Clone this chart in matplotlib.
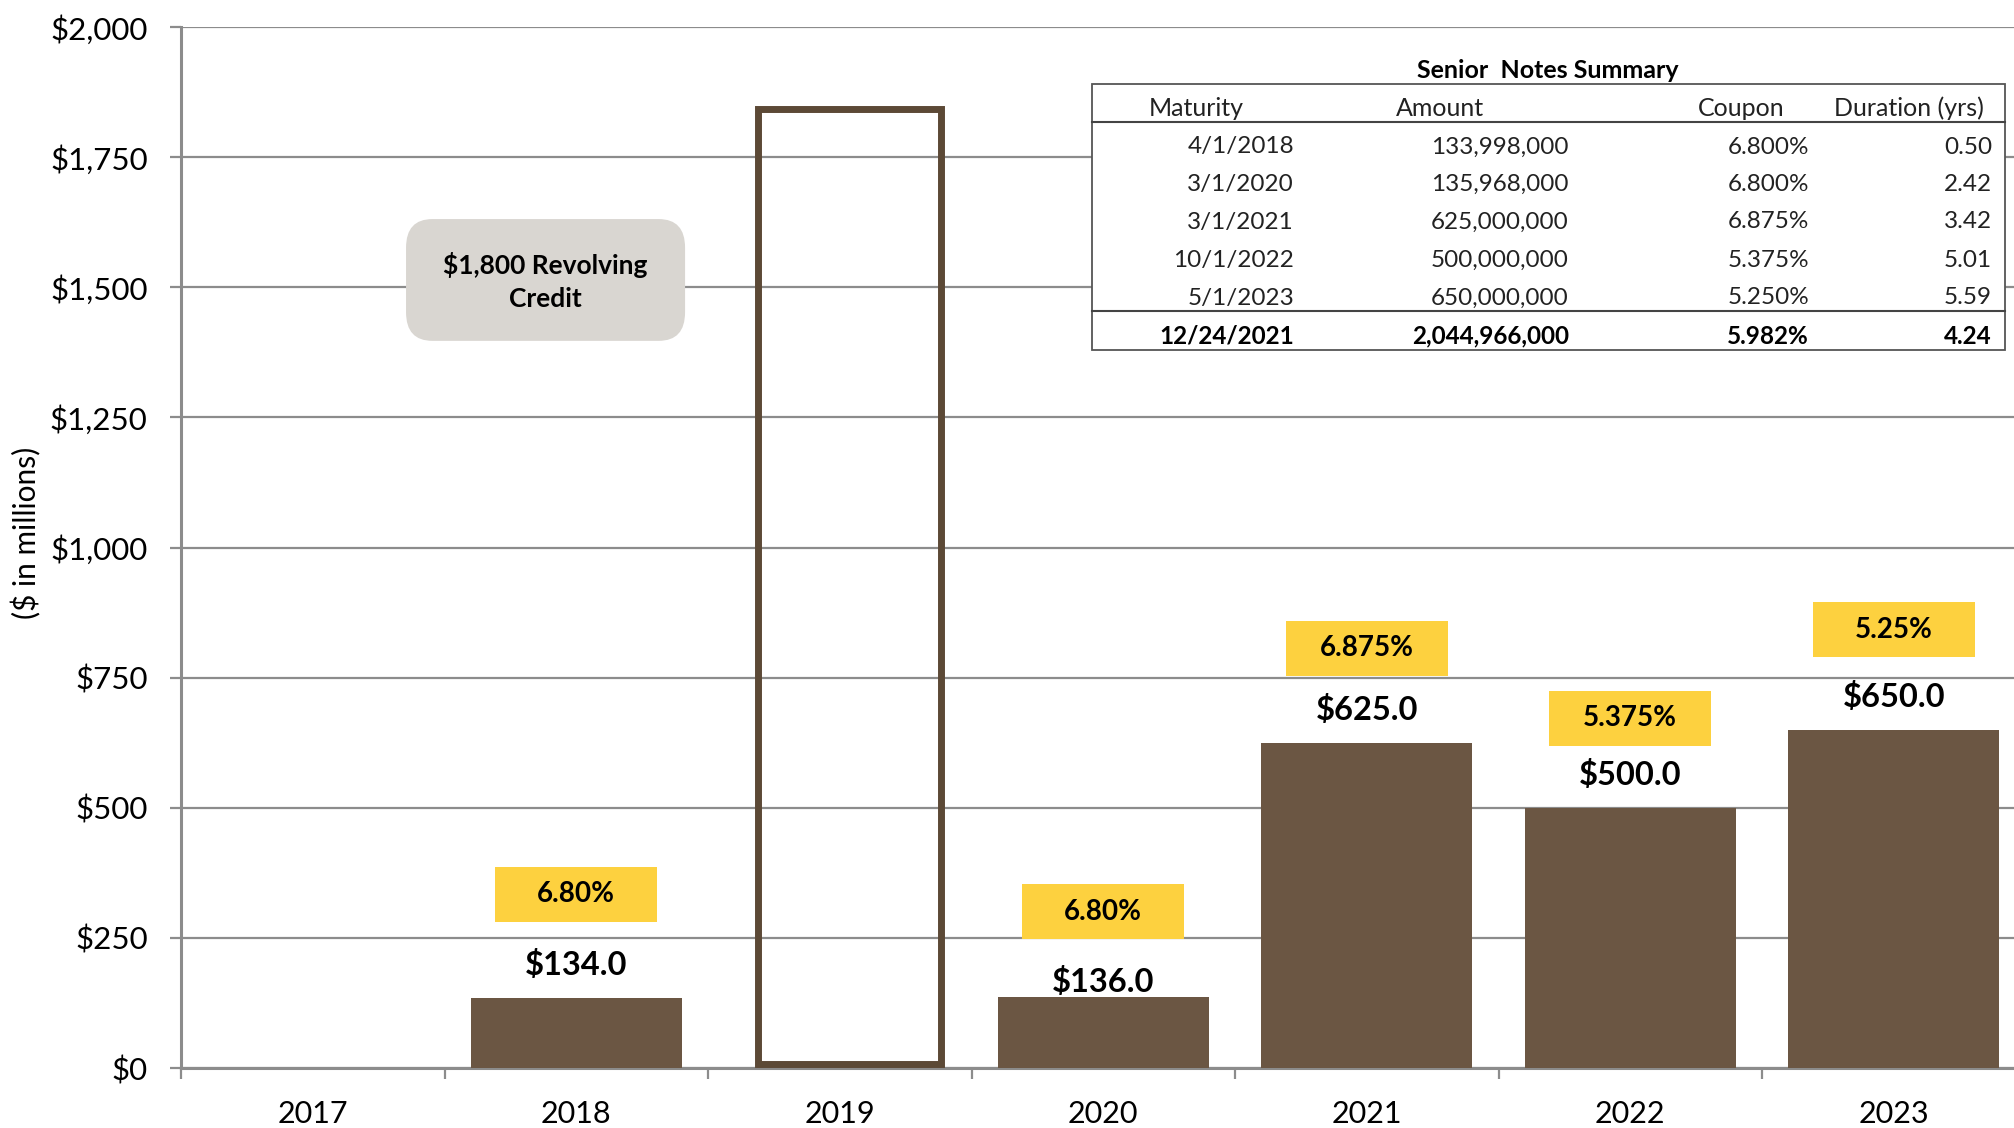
import matplotlib
matplotlib.use("Agg")
import matplotlib.pyplot as plt
from matplotlib.patches import Rectangle, FancyBboxPatch
from matplotlib.lines import Line2D

plt.rcParams['font.family'] = ['Lato', 'DejaVu Sans']

# ---------------- data ----------------
years = ['2017', '2018', '2019', '2020', '2021', '2022', '2023']
note_maturities = [0, 134.0, 0, 136.0, 625.0, 500.0, 650.0]
coupon_labels = ['', '6.80%', '', '6.80%', '6.875%', '5.375%', '5.25%']
revolver_year = '2019'
revolver_bottom = 8
revolver_top = 1843
revolver_label = '$1,800 Revolving\nCredit'

table_title = 'Senior  Notes Summary'
table_headers = ['Maturity', 'Amount', 'Coupon', 'Duration (yrs)']
tbl_maturity = ['4/1/2018', '3/1/2020', '3/1/2021', '10/1/2022', '5/1/2023']
tbl_amount = ['133,998,000', '135,968,000', '625,000,000', '500,000,000', '650,000,000']
tbl_coupon = ['6.800%', '6.800%', '6.875%', '5.375%', '5.250%']
tbl_duration = ['0.50', '2.42', '3.42', '5.01', '5.59']
tbl_total = ['12/24/2021', '2,044,966,000', '5.982%', '4.24']

# ---------------- layout / style ----------------
W, H = 2015, 1128
BROWN = '#6B5643'
EDGE_BROWN = '#5C4936'
YELLOW = '#FDD13F'
GREY_BOX = '#D9D6D1'
GRID = '#8C8C8C'

value_label_offset = [0, 63, 0, 29, 63, 62, 63]
coupon_box_offset = [0, 200, 0, 164, 181, 172, 192]
coupon_box_h = 106
coupon_box_w = 0.615

fig = plt.figure(figsize=(W / 100, H / 100), dpi=100)
ax = fig.add_axes([181 / W, (H - 1068) / H, 7 * 263.5 / W, 1041 / H])
ax.set_xlim(-0.5, 6.5)
ax.set_ylim(0, 2000)

x = list(range(len(years)))

ax.bar(x, note_maturities, width=0.80, color=BROWN, zorder=3)

ri = years.index(revolver_year)
ax.bar([ri + 0.037], [revolver_top - revolver_bottom], bottom=revolver_bottom, width=0.698,
       facecolor='none', edgecolor=EDGE_BROWN, linewidth=5.0, zorder=3)

for i, v in enumerate(note_maturities):
    if v <= 0:
        continue
    ax.text(i, v + value_label_offset[i], f'${v:,.1f}', ha='center', va='center',
            fontsize=23.5, fontweight='bold', color='black', zorder=5)
    cy = v + coupon_box_offset[i]
    ax.add_patch(Rectangle((i - coupon_box_w / 2, cy - coupon_box_h / 2), coupon_box_w,
                           coupon_box_h, facecolor=YELLOW, edgecolor='none', zorder=4))
    ax.text(i, cy, coupon_labels[i], ha='center', va='center', fontsize=20,
            fontweight='bold', color='black', zorder=5)

# revolving credit callout
ax.add_patch(FancyBboxPatch((0.354 + 0.06, 1395 + 35), 1.413 - 0.354 - 0.12, 1633 - 1395 - 70,
                            boxstyle='round,pad=0.06,rounding_size=0.1',
                            mutation_aspect=550,
                            facecolor=GREY_BOX, edgecolor='none', zorder=4))
ax.text(0.883, 1512, revolver_label, ha='center', va='center', fontsize=19,
        fontweight='bold', linespacing=1.45, zorder=5)

# axes styling
ax.set_yticks(range(0, 2001, 250))
ax.set_yticklabels([f'${t:,}' for t in range(0, 2001, 250)])
ax.yaxis.grid(True, color=GRID, linewidth=1.6, zorder=0)
ax.set_axisbelow(True)
ax.tick_params(axis='y', length=8, width=1.6, color=GRID, pad=16, labelsize=22.5)

ax.set_xticks([i - 0.5 for i in range(len(years) + 1)])
ax.set_xticklabels([])
ax.set_xticks(x, minor=True)
ax.set_xticklabels(years, minor=True)
ax.tick_params(axis='x', which='major', length=8, width=1.6, color=GRID)
ax.tick_params(axis='x', which='minor', length=0, pad=23, labelsize=22)

for s in ['top', 'right']:
    ax.spines[s].set_visible(False)
ax.spines['left'].set_color(GRID)
ax.spines['left'].set_linewidth(2.2)
ax.spines['bottom'].set_color(GRID)
ax.spines['bottom'].set_linewidth(2.2)

fig.text(26 / W, 1 - 533 / H, '($ in millions)', rotation=90, ha='center', va='center',
         fontsize=21.5)

# ---------------- summary table (figure pixel coordinates) ----------------
def fx(px):
    return px / W


def fy(py):
    return 1 - py / H


tl, tr, tt, tb = 1092, 2005, 84, 350
fig.patches.append(Rectangle((fx(tl), fy(tb)), fx(tr) - fx(tl), fy(tt) - fy(tb),
                             transform=fig.transFigure, facecolor='white',
                             edgecolor='#555555', linewidth=1.3, zorder=10))
for yy in (122, 311):
    fig.lines.append(Line2D([fx(tl), fx(tr)], [fy(yy), fy(yy)], transform=fig.transFigure,
                            color='#444444', linewidth=1.5, zorder=11))

fig.text(fx(1548), fy(70), table_title, ha='center', va='center', fontsize=18,
         fontweight='bold', zorder=12)
header_x = [1196, 1440, 1741, 1909]
for hx, h in zip(header_x, table_headers):
    fig.text(fx(hx), fy(108), h, ha='center', va='center', fontsize=18, color='#222222',
             zorder=12)

col_right = [1294, 1569, 1809, 1992]
row_y = [147, 184.5, 222, 260, 298]
cols = [tbl_maturity, tbl_amount, tbl_coupon, tbl_duration]
for cx, col in zip(col_right, cols):
    for ry, val in zip(row_y, col):
        fig.text(fx(cx), fy(ry), val, ha='right', va='center', fontsize=17.5,
                 color='#222222', zorder=12)
for cx, val in zip(col_right, tbl_total):
    fig.text(fx(cx), fy(336), val, ha='right', va='center', fontsize=17.5,
             fontweight='bold', color='black', zorder=12)

fig.savefig('out.png', dpi=100)
